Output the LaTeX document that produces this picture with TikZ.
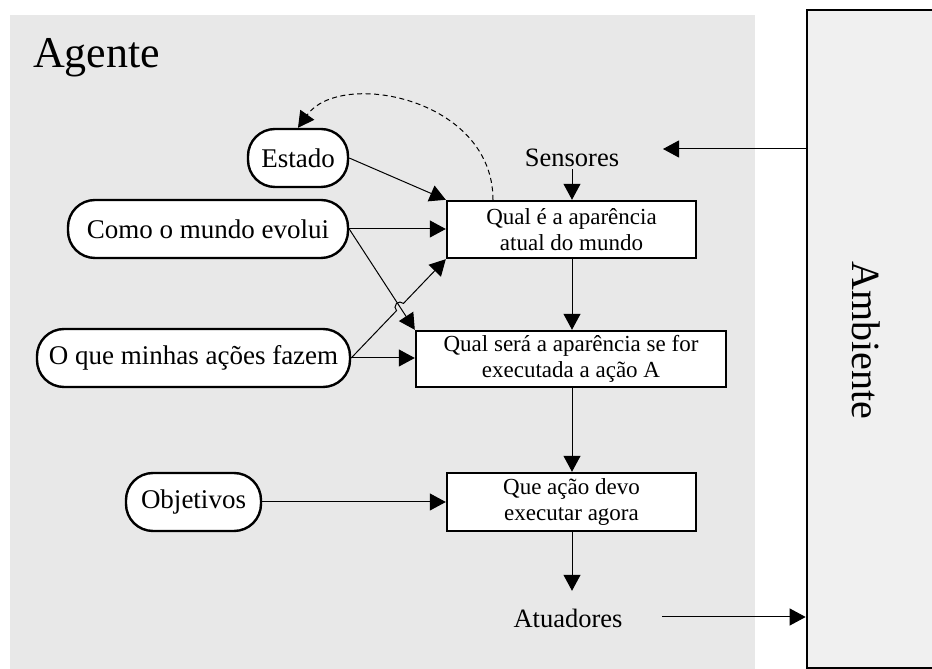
\documentclass[tikz,border=0pt]{standalone}
\usepackage{fontspec}
\setmainfont{Liberation Serif}
\usetikzlibrary{arrows.meta,calc,intersections}
\definecolor{agentgray}{RGB}{232,232,232}
\definecolor{envgray}{RGB}{240,240,240}

\begin{document}
\begin{tikzpicture}[x=1pt,y=1pt,
  conn/.style={line width=1pt},
  arr/.style={conn,-{Triangle[length=16pt,width=17pt]}},
  pill/.style={draw,line width=2.4pt,fill=white,rounded corners=27pt,
    minimum height=58pt,inner sep=0pt,font=\fontsize{27}{30}\selectfont},
  proc/.style={draw,line width=2.4pt,fill=white,inner sep=0pt,align=center,
    font=\fontsize{23}{25.5}\selectfont},
  lbl/.style={inner sep=0pt,font=\fontsize{26.5}{30}\selectfont},
]
\useasboundingbox (0,0) rectangle (932,669);

% agent panel and environment
\fill[agentgray] (10,0) rectangle (755,654);
\node[draw,line width=2.7pt,fill=envgray,minimum width=133pt,minimum height=658pt,inner sep=0pt]
  (amb) at (873.5,330) {};
\node[inner sep=0pt,rotate=-90,font=\fontsize{40}{42}\selectfont] (ambtxt) at (866,329) {Ambiente};
\node[inner sep=0pt,anchor=base west,font=\fontsize{44}{48}\selectfont] (agente) at (33,601) {Agente};

% knowledge pills
\node[pill,minimum width=100pt] (estado) at (298,511) {Estado};
\node[pill,minimum width=280pt] (como) at (208,440) {Como o mundo evolui};
\node[pill,minimum width=313pt] (oque) at (193.5,311) {O que minhas ações fazem};
\node[pill,minimum width=135pt] (obj) at (193.5,167) {Objetivos};

% processing boxes
\node[proc,minimum width=249pt,minimum height=57pt] (b1) at (571.5,439.5)
  {Qual é a aparência\\atual do mundo};
\node[proc,minimum width=310pt,minimum height=56pt] (b2) at (571,310)
  {Qual será a aparência se for\\executada a ação A};
\node[proc,minimum width=249pt,minimum height=58pt] (b3) at (571.5,167)
  {Que ação devo\\executar agora};

% sensor / actuator labels
\node[lbl,anchor=base,text depth=0pt,inner sep=2pt] (sens) at (572,502) {Sensores};
\node[lbl,anchor=base,text height=17pt,text depth=0pt] (atu) at (568,41) {Atuadores};
\coordinate (sensin) at (663,520);
\coordinate (atuout) at (662,52);

% connectors
\draw[arr] ([yshift=190pt]amb.west) -- (sensin);
\draw[arr] (atuout) -- ([yshift=-278pt]amb.west);
\draw[arr] (sens.south) -- (sens.south |- b1.north);
\draw[arr] (estado.east) -- (b1.north west);
\draw[arr] (como.east) -- (como.east -| b1.west);
\draw[arr] (oque.east) -- (oque.east -| b2.west);
\draw[arr] (b1.south -| sens.south) -- (b2.north -| sens.south);
\draw[arr] (b2.south -| sens.south) -- (b3.north -| sens.south);
\draw[arr,shorten >=20pt] (b3.south -| sens.south) -- (atu.north -| sens.south);
\draw[arr] (obj.east) -- (b3.west);

% crossing pair, with a hop on the second line
\draw[arr,name path=pcomo] (como.east) -- (b2.north west);
\path[name path=poque] (oque.east) -- (b1.south west);
\path[name intersections={of=pcomo and poque,by=X}];
\draw[arr] let \p1=($(b1.south west)-(oque.east)$), \n1={atan2(\y1,\x1)} in
  (oque.east) -- ($(X)!5pt!(oque.east)$)
  arc[start angle=\n1+180,end angle=\n1,radius=5pt]
  -- (b1.south west);

% state update loop
\draw[conn,dashed,dash pattern=on 5pt off 3.5pt,-{Triangle[length=16pt,width=17pt]}]
  ([xshift=-78.5pt]b1.north) .. controls +(0,102) and (340,600) .. (estado.north);
\end{tikzpicture}
\end{document}
